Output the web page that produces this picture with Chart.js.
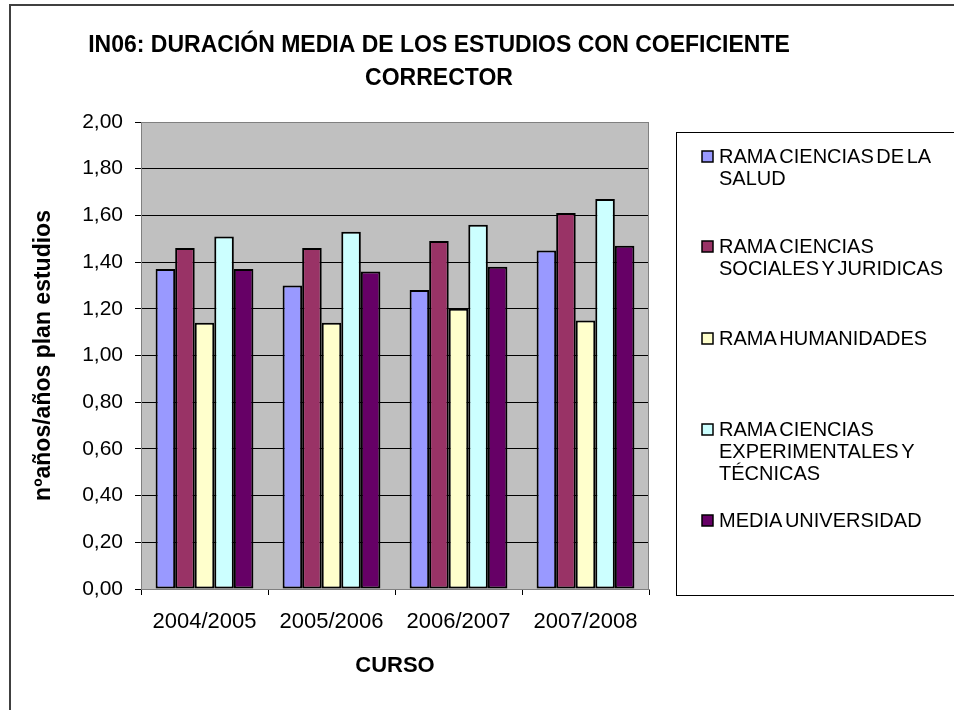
<!DOCTYPE html>
<html>
<head>
<meta charset="utf-8">
<script src="https://cdn.jsdelivr.net/npm/chart.js@4/dist/chart.umd.min.js"></script>
<style>
  html, body { margin: 0; padding: 0; background: #fff; }
  #wrap { position: relative; width: 954px; height: 710px; }
</style>
</head>
<body>
<div id="wrap"><canvas id="c"></canvas></div>
<script>
const titleLines = ['IN06: DURACIÓN MEDIA DE LOS ESTUDIOS CON COEFICIENTE', 'CORRECTOR'];
const xAxisTitle = 'CURSO';
const yAxisTitle = 'nºaños/años plan estudios';
const categories = ['2004/2005', '2005/2006', '2006/2007', '2007/2008'];
const seriesNames = [
  'RAMA CIENCIAS DE LA SALUD',
  'RAMA CIENCIAS SOCIALES Y JURIDICAS',
  'RAMA HUMANIDADES',
  'RAMA CIENCIAS EXPERIMENTALES Y TÉCNICAS',
  'MEDIA UNIVERSIDAD'
];
const saludValues = [1.37, 1.30, 1.28, 1.45];
const socialesValues = [1.46, 1.46, 1.49, 1.61];
const humanidadesValues = [1.14, 1.14, 1.20, 1.15];
const experimentalesValues = [1.51, 1.53, 1.56, 1.67];
const mediaValues = [1.37, 1.36, 1.38, 1.47];
const seriesColors = ['#9999FF', '#993366', '#FFFFCC', '#CCFFFF', '#660066'];
const yTickMin = 0, yTickMax = 2, yTickStep = 0.2;

const FONT = '"Liberation Sans", Arial, Helvetica, sans-serif';

const allValues = [saludValues, socialesValues, humanidadesValues, experimentalesValues, mediaValues];

const datasets = allValues.map((vals, i) => ({
  label: seriesNames[i],
  data: vals,
  backgroundColor: seriesColors[i],
  borderColor: '#000000',
  borderWidth: 2,
  borderSkipped: false,
  categoryPercentage: 0.77,
  barPercentage: 1.0
}));

const decorPlugin = {
  id: 'decor',
  beforeDraw(chart) {
    const ctx = chart.ctx;
    const a = chart.chartArea;
    ctx.save();
    ctx.fillStyle = '#ffffff';
    ctx.fillRect(0, 0, chart.width, chart.height);
    ctx.strokeStyle = '#404040';
    ctx.lineWidth = 2;
    ctx.strokeRect(10, 5, chart.width + 20, chart.height + 20);
    ctx.fillStyle = '#C0C0C0';
    ctx.fillRect(a.left, a.top, a.right - a.left, a.bottom - a.top);
    ctx.restore();
  },
  beforeDatasetsDraw(chart) {
    const ctx = chart.ctx;
    const a = chart.chartArea;
    ctx.save();
    ctx.strokeStyle = '#808080';
    ctx.lineWidth = 1;
    ctx.strokeRect(Math.round(a.left) + 0.5, Math.round(a.top) + 0.5,
                   Math.round(a.right - a.left) - 1, Math.round(a.bottom - a.top));
    ctx.restore();
  },
  afterDraw(chart) {
    const ctx = chart.ctx;
    ctx.save();
    ctx.fillStyle = '#000';
    ctx.font = 'bold 23px ' + FONT;
    ctx.textAlign = 'center';
    ctx.textBaseline = 'middle';
    ctx.fillText(titleLines[0], 439, 46);
    ctx.fillText(titleLines[1], 439, 79);

    ctx.strokeStyle = '#000';
    ctx.lineWidth = 1;
    ctx.strokeRect(676.5, 132.5, 400, 463);
    ctx.font = '20px ' + FONT;
    try { ctx.wordSpacing = '-3px'; } catch (e) {}
    ctx.textAlign = 'left';
    const maxW = 240;
    const itemTops = [157, 247, 339, 430, 521];
    seriesNames.forEach((name, i) => {
      const words = name.split(' ');
      const lines = [];
      let cur = '';
      words.forEach(w => {
        const t = cur ? cur + ' ' + w : w;
        if (ctx.measureText(t).width > maxW && cur) { lines.push(cur); cur = w; }
        else cur = t;
      });
      if (cur) lines.push(cur);
      const y0 = itemTops[i];
      ctx.fillStyle = seriesColors[i];
      ctx.fillRect(702, y0 - 6, 11, 11);
      ctx.strokeStyle = '#000';
      ctx.lineWidth = 1.5;
      ctx.strokeRect(702, y0 - 6, 11, 11);
      ctx.fillStyle = '#000';
      lines.forEach((ln, k) => ctx.fillText(ln, 719, y0 + k * 22));
    });
    ctx.restore();
  }
};

new Chart(document.getElementById('c'), {
  type: 'bar',
  data: { labels: categories, datasets },
  options: {
    responsive: true,
    maintainAspectRatio: false,
    animation: false,
    devicePixelRatio: 1,
    layout: { padding: { left: 10, top: 122, right: 305, bottom: 0 } },
    plugins: {
      legend: { display: false },
      title: { display: false },
      tooltip: { enabled: false }
    },
    scales: {
      x: {
        offset: true,
        grid: { display: true, drawOnChartArea: false, drawTicks: true, tickLength: 6, color: '#000', offset: true },
        border: { display: true, color: '#808080', width: 1 },
        ticks: { color: '#000', font: { family: FONT, size: 22 }, padding: 14, maxRotation: 0, autoSkip: false },
        title: { display: true, text: xAxisTitle, color: '#000', font: { family: FONT, size: 22, weight: 'bold' }, padding: { top: 0, bottom: 31 } },
        afterFit(scale) { scale.height = 121; }
      },
      y: {
        min: yTickMin,
        max: yTickMax,
        grid: { color: '#000', tickColor: '#000', tickLength: 6, drawTicks: true, lineWidth: 1 },
        border: { display: true, color: '#808080', width: 1 },
        ticks: {
          stepSize: yTickStep,
          color: '#000',
          font: { family: FONT, size: 21 },
          padding: 12,
          callback: v => Number(v).toFixed(2).replace('.', ',')
        },
        title: { display: true, text: yAxisTitle, color: '#000', font: { family: FONT, size: 23, weight: 'bold' }, padding: { top: 20, bottom: 0 } },
        afterFit(scale) { scale.width = 131; }
      }
    }
  },
  plugins: [decorPlugin]
});
</script>
</body>
</html>
